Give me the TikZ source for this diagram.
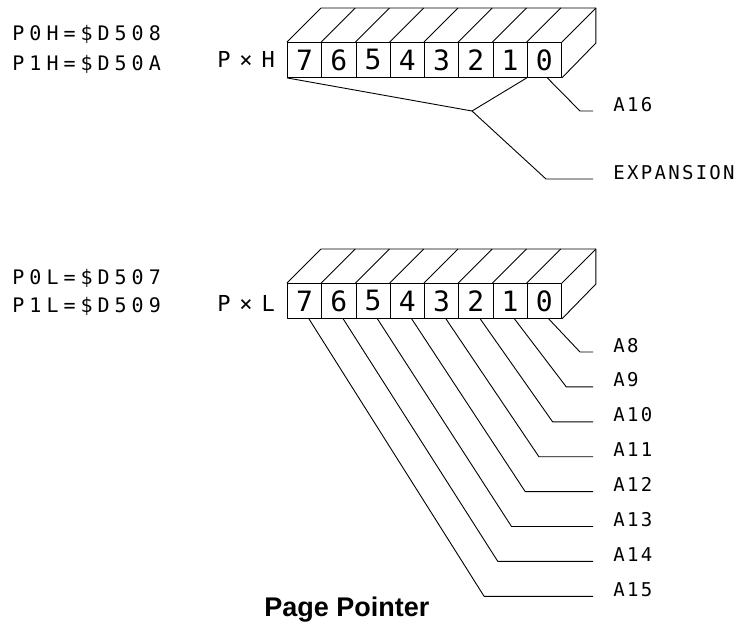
\documentclass[tikz,border=0pt]{standalone}
\usepackage{fontspec}
\usetikzlibrary{calc}
\newfontfamily\plotfont{DejaVu Sans Mono}
\newfontfamily\plotwide[LetterSpace=25]{DejaVu Sans Mono}
\newfontfamily\plotlab[LetterSpace=12]{DejaVu Sans Mono}
\newfontfamily\plotreg[LetterSpace=40]{DejaVu Sans Mono}
\newfontfamily\titlefont{Liberation Sans}
\begin{document}
\begin{tikzpicture}[x=1pt,y=-1pt,line width=0.9pt,line join=round,
  cellbox/.style={draw,minimum width=34.25pt,minimum height=35pt,inner sep=0pt,anchor=north west,
    font=\plotfont\fontsize{28}{30}\selectfont},
  addr/.style={anchor=base west,inner sep=0pt,font=\plotwide\fontsize{20}{22}\selectfont},
  regname/.style={anchor=base west,inner sep=0pt,font=\plotreg\fontsize{22}{24}\selectfont},
  bitlab/.style={anchor=base west,inner sep=0pt,font=\plotlab\fontsize{19}{21}\selectfont},
  wire/.style={line width=0.9pt}]
\fill[white] (0,0) rectangle (734,625);
\useasboundingbox (0,0) rectangle (734,625);

% ---------- high byte ----------
\node[addr] (p0h) at (12,40) {P0H=\$D508};
\node[addr] (p1h) at (12,70) {P1H=\$D50A};
\node[regname] (pxh) at (217,67) {P×H};
\foreach \b in {0,...,7}
  \node[cellbox] (h\b) at ({287+(7-\b)*34.25},42) {\b};
\foreach \b in {0,...,7}
  \draw (h\b.north west) -- ++(34,-34);
\draw (h0.north east) -- ++(34,-34) coordinate (hbr);
\draw ($(h7.north west)+(34,-34)$) -- (hbr) -- ++(0,35) -- (h0.south east);

\node[bitlab] (a16) at (613,111) {A16};
\node[bitlab] (exp) at (613,179) {EXPANSION};
\coordinate (hj) at (472,111);
\coordinate (hk) at (546,179);
\coordinate (hm) at (580,111);
\draw[wire] (h7.south west) -- (hj) -- (h0.south west);
\draw[wire] (hj) -- (hk) -- ([xshift=-20pt]exp.base west);
\draw[wire] ([xshift=3pt]h0.south) -- (hm) -- ([xshift=-20pt]a16.base west);

% ---------- low byte ----------
\node[addr] (p0l) at (12,284) {P0L=\$D507};
\node[addr] (p1l) at (12,312) {P1L=\$D509};
\node[regname] (pxl) at (217,311) {P×L};
\foreach \b in {0,...,7}
  \node[cellbox] (l\b) at ({287+(7-\b)*34.25},283) {\b};
\foreach \b in {0,...,7}
  \draw (l\b.north west) -- ++(34,-34);
\draw (l0.north east) -- ++(34,-34) coordinate (lbr);
\draw ($(l7.north west)+(34,-34)$) -- (lbr) -- ++(0,35) -- (l0.south east);

\foreach \b [evaluate=\b as \n using int(\b+8)] in {0,...,7} {
  \node[bitlab] (a\n) at (613,{352+34.9*\b}) {A\n};
  \coordinate (lk\b) at ({580-13.7*\b},{352+34.9*\b});
  \draw[wire] ([xshift=4.4pt]l\b.south) -- (lk\b) -- ([xshift=-20pt]a\n.base west);
}

\node[anchor=base west,inner sep=0pt,font=\titlefont\bfseries\fontsize{27}{29}\selectfont] (title) at (264,616) {Page Pointer};
\end{tikzpicture}
\end{document}
